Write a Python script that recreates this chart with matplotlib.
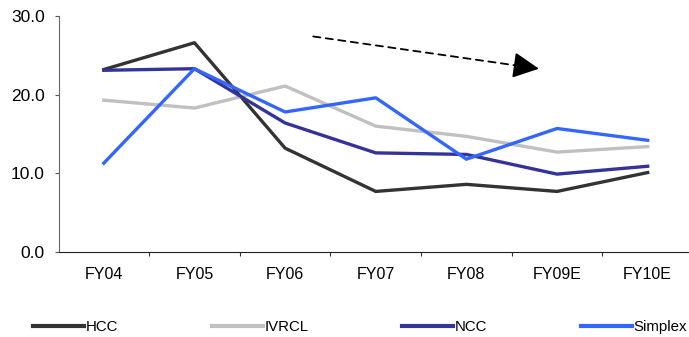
import matplotlib
matplotlib.use("Agg")
import matplotlib.pyplot as plt

years = ["FY04", "FY05", "FY06", "FY07", "FY08", "FY09E", "FY10E"]
hcc = [23.2, 26.6, 13.2, 7.7, 8.6, 7.7, 10.1]
ivrcl = [19.3, 18.3, 21.1, 16.0, 14.7, 12.7, 13.4]
ncc = [23.1, 23.3, 16.4, 12.6, 12.4, 9.9, 10.9]
simplex = [11.3, 23.3, 17.8, 19.6, 11.8, 15.7, 14.2]

plt.rcParams['font.family'] = ['Liberation Sans', 'DejaVu Sans']
plt.rcParams['font.size'] = 11

fig = plt.figure(figsize=(6.89, 3.37), dpi=100)
ax = fig.add_axes([58.5 / 689, 1 - 252 / 337, (693 - 58.5) / 689, 236 / 337])

x = list(range(len(years)))
ax.plot(x, hcc, color='#333333', lw=2.4, label='HCC')
ax.plot(x, ivrcl, color='#c0c0c0', lw=2.4, label='IVRCL')
ax.plot(x, ncc, color='#333399', lw=2.4, label='NCC')
ax.plot(x, simplex, color='#3366ff', lw=2.4, label='Simplex')

# dashed trend line with a solid head
x0, y0, x1, y1 = 2.31, 27.4, 4.8, 23.3
xm, ym = x0 + 0.92 * (x1 - x0), y0 + 0.92 * (y1 - y0)
ax.annotate('', xy=(xm, ym), xytext=(x0, y0),
            arrowprops=dict(arrowstyle='-', color='black', lw=1.3,
                            linestyle=(0, (4, 3)), shrinkA=0, shrinkB=0))
ax.annotate('', xy=(x1, y1), xytext=(xm, ym),
            arrowprops=dict(arrowstyle='-|>,head_length=0.8,head_width=0.4',
                            mutation_scale=20, color='black', lw=1.3,
                            shrinkA=0, shrinkB=0))

ax.set_xlim(-0.5, 6.5)
ax.set_ylim(0, 30)
ax.set_yticks([0, 10, 20, 30])
ax.set_yticklabels(['0.0', '10.0', '20.0', '30.0'], fontsize=12.5)

# boundary ticks as major, year labels on minor ticks
ax.set_xticks([i + 0.5 for i in range(len(years) - 1)])
ax.set_xticklabels([])
ax.set_xticks(x, minor=True)
ax.set_xticklabels(years, minor=True)
ax.tick_params(axis='x', which='major', length=3, color='#333333')
ax.tick_params(axis='x', which='minor', length=0, pad=11, labelsize=11.5)
ax.tick_params(axis='y', length=3, color='#555555', pad=7)

for s in ['top', 'right']:
    ax.spines[s].set_visible(False)
ax.spines['left'].set_color('#666666')
ax.spines['bottom'].set_color('#222222')

# legend row stretched between x=33 and x=687 px
leg = fig.legend(loc='center left',
                 bbox_to_anchor=(33 / 689, 1 - 337 / 337, (687 - 33) / 689, 20 / 337),
                 mode='expand', ncol=4, frameon=False, handlelength=3.4,
                 handletextpad=0.1, fontsize=10.8, borderaxespad=0, borderpad=0)
for h in leg.legend_handles:
    h.set_linewidth(3.0)

fig.savefig('out.png', dpi=100)
